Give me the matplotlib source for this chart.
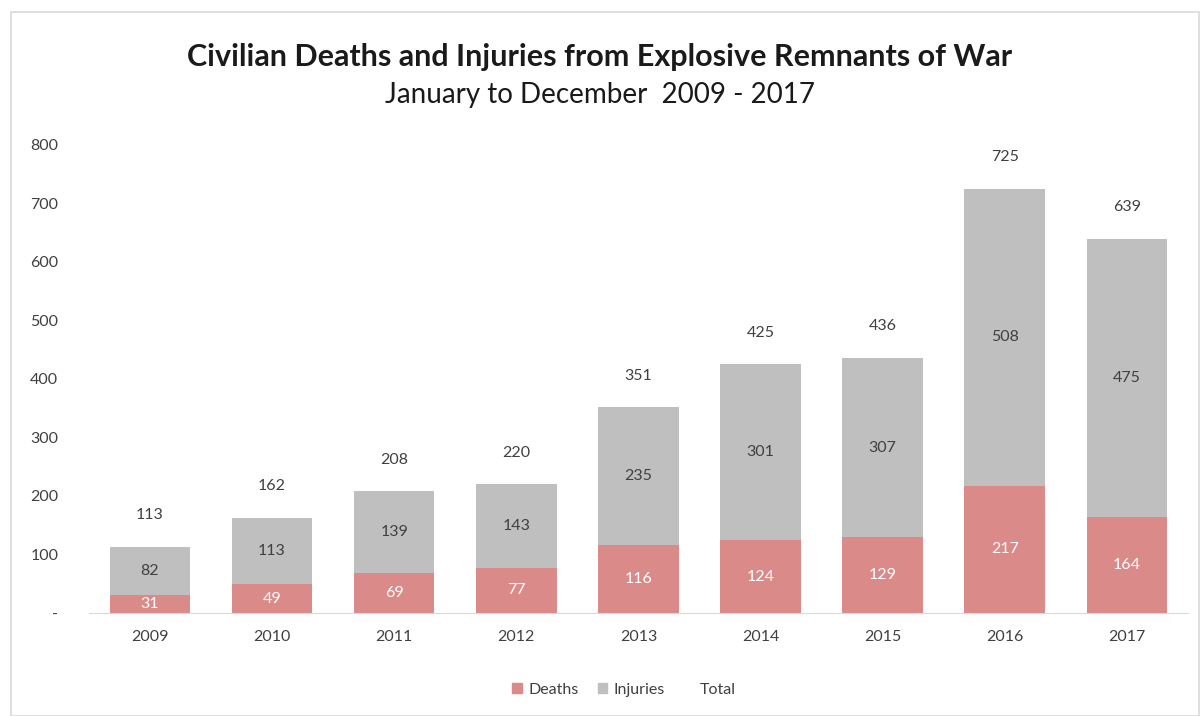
import matplotlib.pyplot as plt
from matplotlib.patches import Patch
import numpy as np

plt.rcParams['font.family'] = ['Lato', 'DejaVu Sans']

years = ['2009', '2010', '2011', '2012', '2013', '2014', '2015', '2016', '2017']
deaths = [31, 49, 69, 77, 116, 124, 129, 217, 164]
injuries = [82, 113, 139, 143, 235, 301, 307, 508, 475]
totals = [113, 162, 208, 220, 351, 425, 436, 725, 639]

death_color = '#DA8A88'
injury_color = '#BFBFBF'
text_color = '#404040'

fig = plt.figure(figsize=(12, 7.16), dpi=100)
ax = fig.add_axes([0.074, 0.144, 0.916, 0.654])

x = np.arange(len(years))
w = 0.66
ax.bar(x, deaths, w, color=death_color, label='Deaths')
ax.bar(x, injuries, w, bottom=deaths, color=injury_color, label='Injuries')

for i in range(len(years)):
    ax.text(x[i], deaths[i] / 2, str(deaths[i]), ha='center', va='center',
            color='white', fontsize=11.5)
    ax.text(x[i], deaths[i] + injuries[i] / 2, str(injuries[i]), ha='center',
            va='center', color=text_color, fontsize=11.5)
    ax.text(x[i], totals[i] + 42, str(totals[i]), ha='center', va='bottom',
            color=text_color, fontsize=11.5)

ax.set_xlim(-0.5, len(years) - 0.5)
ax.set_ylim(0, 800)
ax.set_yticks(range(0, 801, 100))
ax.set_yticklabels(['-'] + [str(v) for v in range(100, 801, 100)])
ax.set_xticks(x)
ax.set_xticklabels(years)
ax.tick_params(axis='both', length=0, labelsize=11.5, colors=text_color)
ax.tick_params(axis='y', pad=22)
ax.tick_params(axis='x', pad=12)
for s in ['top', 'right', 'left']:
    ax.spines[s].set_visible(False)
ax.spines['bottom'].set_color('#D9D9D9')

handles = [Patch(color=death_color, label='Deaths'),
           Patch(color=injury_color, label='Injuries'),
           Patch(color='none', label='Total')]
fig.legend(handles=handles, loc='center', bbox_to_anchor=(0.52, 0.037), ncol=3,
           frameon=False, fontsize=11.5, handlelength=0.6, handleheight=0.6,
           handletextpad=0.4, columnspacing=1.2, labelcolor=text_color)

fig.text(0.5, 0.92, 'Civilian Deaths and Injuries from Explosive Remnants of War',
         ha='center', va='center', fontsize=22, fontweight='bold', color='#1a1a1a')
fig.text(0.5, 0.867, 'January to December  2009 - 2017', ha='center', va='center',
         fontsize=20, color='#1a1a1a')

# light frame round the chart
fig.patches.append(plt.Rectangle((0.009, 0.0), 0.99, 0.983, transform=fig.transFigure,
                                 fill=False, edgecolor='#D9D9D9', linewidth=1.2))

plt.savefig('out.png', dpi=100)
